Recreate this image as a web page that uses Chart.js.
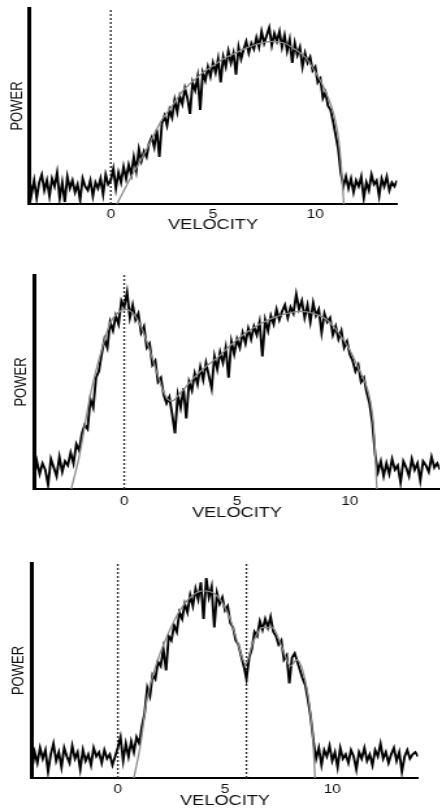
<!DOCTYPE html>
<html>
<head>
<meta charset="utf-8">
<script src="https://cdn.jsdelivr.net/npm/chart.js@4/dist/chart.umd.min.js"></script>
<style>
  body { margin: 0; background: #fff; width: 440px; height: 811px; overflow: hidden; position: relative; }
  .panel { position: absolute; left: 0; transform: scaleX(1.3); transform-origin: 0 0; }
</style>
</head>
<body>
<div class="panel" style="top:0px"><canvas id="c1" width="339" height="234"></canvas></div>
<div class="panel" style="top:262px"><canvas id="c2" width="339" height="260"></canvas></div>
<div class="panel" style="top:545px"><canvas id="c3" width="339" height="265"></canvas></div>
<script>
// velocity grid of the measured spectra
const velStart = -4;
const velStep = 0.125;
const velMin = -4;
const velMax = 14;
const tickValues = [0, 5, 10];

const power1 = [14, 5, 12, 3, 11, 15, 7, 12, 4, 13, 9, 16, 3, 11, 1, 14, 8, 12, 6, 10, 2, 13, 9, 7, 12, 4, 11, 8, 13, 5, 15, 10,
  12, 18, 8, 16, 11, 19, 13, 20, 15, 24, 17, 28, 22, 27, 24, 31,
  34, 29, 38, 24, 41, 45, 40, 48, 44, 53, 47, 55, 51, 59, 54, 46,
  62, 58, 65, 48, 67, 63, 70, 65, 72, 67, 74, 62, 75, 70, 78, 72,
  77, 66, 80, 74, 79, 83, 77, 82, 79, 85, 80, 88, 82, 86, 90, 81,
  87, 83, 88, 80, 86, 78, 84, 72, 82, 76, 80, 70, 77, 72, 75, 68,
  70, 62, 64, 54, 57, 50, 48, 42, 35, 28, 16, 9, 14,
  8, 13, 6, 12, 9, 14, 3, 11, 7, 15, 10, 12, 4, 13, 9, 14, 7, 11, 9, 12];
const fitVel1 = [0.3, 0.6, 1.0, 1.5, 2.0, 2.5, 3.0, 3.5, 4.0, 4.5, 5.0, 5.5, 6.0, 6.5, 7.0, 7.5, 8.0, 8.5, 9.0, 9.5, 10.0, 10.3, 10.6, 10.9, 11.1, 11.25, 11.4];
const fitPow1 = [0, 6, 14, 23, 33, 43, 50, 57.5, 62.5, 67, 70.5, 74, 76.5, 79, 81, 82.5, 83, 82, 79, 75, 67.5, 62, 55, 46, 36, 22, 0];
const markers1 = [0];

// panel 2
const power2 = [5, 13, 7, 12, 9, 2, 14, 10, 6, 15, 8, 13, 11,
  17, 12, 21, 18, 26, 30, 28, 42, 38, 52, 55, 63, 70, 66, 78, 74,
  81, 77, 88, 85, 92, 80, 86, 79, 82, 73, 76, 66, 68, 58, 60, 50,
  52, 44, 40, 43, 35, 26, 44, 38, 47, 33, 50, 46, 54, 49, 57, 51,
  59, 53, 47, 62, 56, 64, 59, 66, 52, 69, 63, 70, 66, 73, 68, 75,
  70, 76, 72, 78, 62, 79, 74, 81, 77, 84, 79, 83, 86, 80, 85, 82,
  91, 84, 88, 80, 86, 78, 87, 81, 84, 73, 82, 78, 80, 72, 76, 70,
  74, 66, 69, 63, 60, 55, 58, 50, 52, 45, 40, 31, 16, 8, 13, 6,
  12, 7, 14, 9, 11, 3, 13, 10, 6, 14, 9, 12, 4, 13, 11, 8, 15, 10, 12, 9];
const fitVel2 = [-2.35, -2.0, -1.5, -1.0, -0.6, -0.3, 0, 0.3, 0.6, 1.0, 1.4, 1.8, 2.1, 2.5, 3.0, 3.6, 4.2, 4.8, 5.4, 6.0, 6.6, 7.2, 7.8, 8.4, 9.0, 9.5, 10.0, 10.4, 10.8, 11.0, 11.1, 11.2];
const fitPow2 = [0, 15, 44, 65, 78, 82, 84, 83, 79, 69, 56, 44, 41, 45, 51, 57, 62, 68, 73, 77, 80, 82, 83, 82, 79, 73, 65, 56, 46, 35, 22, 0];
const markers2 = [0];

// panel 3
const power3 = [4, 12, 7, 14, 9, 13, 3, 11, 16, 8, 12, 5, 14, 10, 7, 15, 9, 12, 4, 13, 8, 11, 6, 14, 10, 12, 7, 13, 9, 11, 6, 10,
  14, 19, 8, 16, 10, 17, 12, 19, 16, 24, 30, 42, 38, 48, 46, 54,
  52, 60, 50, 66, 64, 71, 68, 77, 74, 81, 77, 85, 80, 88, 83, 91,
  74, 93, 84, 89, 70, 86, 81, 84, 78, 80, 72, 70, 64, 62, 57, 52,
  46, 56, 60, 68, 66, 73, 69, 74, 70, 75, 68, 66, 62, 64, 55, 57,
  44, 56, 58, 54, 50, 46, 43, 36, 28, 17, 9, 14,
  6, 13, 10, 15, 8, 12, 5, 14, 9, 11, 7, 13, 10, 4, 12, 9, 14, 8, 11, 6, 13, 10, 16, 9, 12, 7, 11, 14, 8, 12, 3, 10, 13, 9, 11, 12, 10];
const fitVel3 = [0.75, 1.05, 1.35, 1.8, 2.3, 2.9, 3.5, 4.0, 4.6, 5.2, 5.65, 5.95, 6.3, 6.75, 7.2, 7.65, 8.05, 8.35, 8.65, 8.95, 9.1, 9.2];
const fitPow3 = [0, 15, 36, 53, 66, 78, 85, 87, 85, 75, 61, 53, 63, 70, 70, 61, 52, 55, 49, 33, 18, 0];
const markers3 = [0, 6];

const powerMax = 100;
const stretch = 1.3;
const canvasW = 339;

function spectrum(values) {
  return values.map((p, i) => ({ x: velStart + i * velStep, y: p }));
}
function curve(vels, pows) {
  return vels.map((v, i) => ({ x: v, y: pows[i] }));
}

function makePanel(id, noisy, fit, markers, box) {
  const canvas = document.getElementById(id);
  const datasets = [
    { data: fit, borderColor: "#8a8a8a", borderWidth: 1.3, pointRadius: 0, tension: 0.4, cubicInterpolationMode: "monotone" },
    { data: noisy, borderColor: "#000", borderWidth: 1.9, pointRadius: 0, tension: 0 },
  ];
  markers.forEach(m => {
    datasets.push({ data: [{ x: m, y: 0 }, { x: m, y: powerMax }], borderColor: "#333", borderWidth: 1.4, borderDash: [2, 2], pointRadius: 0 });
  });

  new Chart(canvas, {
    type: "line",
    data: { datasets: datasets },
    options: {
      responsive: false,
      animation: false,
      devicePixelRatio: 1,
      layout: { padding: { top: box.top, right: canvasW - box.right / stretch, left: 0, bottom: 0 } },
      plugins: { legend: { display: false }, tooltip: { enabled: false } },
      scales: {
        x: {
          type: "linear",
          min: velMin,
          max: velMax,
          afterBuildTicks: s => { s.ticks = tickValues.map(v => ({ value: v })); },
          afterFit: s => { s.height = box.xh; },
          grid: { display: false, drawTicks: false },
          border: { display: true, color: "#000", width: 2 },
          ticks: { padding: box.tickPad, color: "#111", font: { family: "Liberation Sans", size: 12 } },
          title: { display: true, text: "VELOCITY", color: "#111", padding: 0, font: { family: "Liberation Sans", size: 14 } }
        },
        y: {
          min: 0,
          max: powerMax,
          afterFit: s => { s.width = box.left / stretch; },
          grid: { display: false, drawTicks: false },
          border: { display: true, color: "#000", width: 3 },
          ticks: { display: false },
          title: { display: true, text: "POWER", color: "#111", padding: { top: box.titlePad, bottom: 0 }, font: { family: "Liberation Sans", size: 13 } }
        }
      }
    }
  });
}

makePanel("c1", spectrum(power1), curve(fitVel1, fitPow1), markers1,
  { top: 8, left: 29, right: 397, xh: 30, tickPad: 3, titlePad: 6 });
makePanel("c2", spectrum(power2), curve(fitVel2, fitPow2), markers2,
  { top: 13, left: 34, right: 440, xh: 33, tickPad: 5, titlePad: 8.5 });
makePanel("c3", spectrum(power3), curve(fitVel3, fitPow3), markers3,
  { top: 18, left: 32, right: 418, xh: 32, tickPad: 4, titlePad: 7 });
</script>
</body>
</html>
